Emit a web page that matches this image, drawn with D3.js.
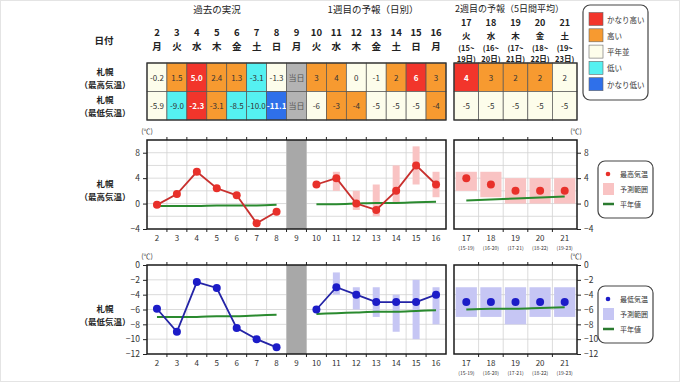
<!DOCTYPE html>
<html><head><meta charset="utf-8">
<script src="https://cdn.jsdelivr.net/npm/d3@7/dist/d3.min.js"></script>
<style>
body{margin:0;background:#fff}
svg{display:block}
text{font-family:"Noto Sans CJK JP","Noto Sans",sans-serif}
</style>
</head><body>
<svg id="c" width="680" height="382"></svg>
<script>
// ---------- data ----------
const days = [2,3,4,5,6,7,8,9,10,11,12,13,14,15,16];
const weekdays = ['月','火','水','木','金','土','日','月','火','水','木','金','土','日','月'];
const obsDays = [2,3,4,5,6,7,8];
const todayDay = 9;
const fcDays = [10,11,12,13,14,15,16];
const highObs = [-0.2,1.5,5.0,2.4,1.3,-3.1,-1.3];
const lowObs = [-5.9,-9.0,-2.3,-3.1,-8.5,-10.0,-11.1];
const highObsCls = ['n','h','vh','h','h','l','n'];
const lowObsCls = ['n','l','vh','h','l','l','vl'];
const highFc = [3,4,0,-1,2,6,3];
const lowFc = [-6,-3,-4,-5,-5,-5,-4];
const highFcCls = ['h','h','n','n','h','vh','h'];
const lowFcCls = ['n','h','h','n','n','n','h'];
const rangeDays = [11,12,13,14,15,16];
const highRange = [[2,5],[-1,2],[-2,3],[0,6],[3,9],[1,5]];
const lowRange = [[-4,-1],[-6,-3],[-7,-3],[-9,-4],[-10,-2],[-8,-3]];
const highNormObs = [-0.4,-0.4,-0.4,-0.3,-0.3,-0.3,-0.2];
const highNormFc = [-0.1,-0.1,0,0.1,0.1,0.2,0.3];
const lowNormObs = [-7.0,-7.0,-7.0,-6.9,-6.9,-6.8,-6.7];
const lowNormFc = [-6.6,-6.5,-6.4,-6.3,-6.3,-6.2,-6.1];

const w2Days = [17,18,19,20,21];
const w2Weekdays = ['火','水','木','金','土'];
const w2Period1 = ['(15~','(16~','(17~','(18~','(19~'];
const w2Period2 = ['19日)','20日)','21日)','22日)','23日)'];
const w2PeriodShort = ['(15-19)','(16-20)','(17-21)','(18-22)','(19-23)'];
const w2High = [4,3,2,2,2];
const w2Low = [-5,-5,-5,-5,-5];
const w2HighCls = ['vh','h','h','h','n'];
const w2LowCls = ['n','n','n','n','n'];
const w2HighRange = [[2,5],[1,5],[0,4],[0,4],[0,4]];
const w2LowRange = [[-7,-3],[-7,-3],[-8,-3],[-7,-3],[-7,-3]];
const w2HighNorm = [0.5,0.65,0.8,0.95,1.1];
const w2LowNorm = [-6.0,-5.9,-5.9,-5.8,-5.7];

const highTicks = [8,4,0,-4];
const lowTicks = [0,-2,-4,-6,-8,-10,-12];
const legendCls = ['vh','h','n','l','vl'];
const legendLabels = ['かなり高い','高い','平年並','低い','かなり低い'];

// ---------- styles ----------
const clsColor = {vh:'#f2352b', h:'#f79a30', n:'#fdfdeb', l:'#55f1f1', vl:'#2f70ea'};
const grayCell = '#b3b3b3';

const svg = d3.select('#c');
svg.append('rect').attr('x',0.5).attr('y',0.5).attr('width',679).attr('height',381)
  .attr('fill','#fff').attr('stroke','#e4e4e4');

const xMain = d3.scaleBand().domain(days).range([147,446]);
const x2 = d3.scaleBand().domain(w2Days).range([454,577]);

function txt(x,y,s,opt={}){
  return svg.append('text').attr('x',x).attr('y',y).text(s)
    .attr('font-size',opt.size||9).attr('fill',opt.fill||'#222')
    .attr('text-anchor',opt.anchor||'middle').attr('dominant-baseline','central')
    .attr('font-weight',opt.weight||'normal');
}
// ---------- titles ----------
txt(217,9,'過去の実況',{size:9.5});
txt(373,9,'1週目の予報（日別）',{size:9.5});
txt(455,8,'2週目の予報（5日間平均）',{size:9,anchor:'start'});

// header
txt(104,40,'日付',{size:9.5,weight:'bold'});
days.forEach((d,i)=>{
  const cx = xMain(d)+xMain.bandwidth()/2;
  txt(cx,32,d,{size:9.5,weight:'bold'});
  txt(cx,46,weekdays[i],{size:9.5,weight:'bold'});
});
w2Days.forEach((d,i)=>{
  const cx = x2(d)+x2.bandwidth()/2;
  txt(cx,22,d,{size:9,weight:'bold'});
  txt(cx,35,w2Weekdays[i],{size:8.5,weight:'bold'});
  txt(cx,47,w2Period1[i],{size:7.5,weight:'bold'});
  txt(cx,58,w2Period2[i],{size:7.5,weight:'bold'});
});

// row labels
txt(105,71,'札幌',{size:8.5,weight:'bold'});
txt(105,84,'（最高気温）',{size:8.5,weight:'bold'});
txt(105,99,'札幌',{size:8.5,weight:'bold'});
txt(105,112,'（最低気温）',{size:8.5,weight:'bold'});

// ---------- table ----------
const rowY = [63,91.5], rowH = 28.5;
function cell(x,w,y,cls,val,gray){
  const fill = gray ? grayCell : clsColor[cls];
  svg.append('rect').attr('x',x).attr('y',y).attr('width',w).attr('height',rowH)
    .attr('fill',fill).attr('stroke','#555').attr('stroke-width',0.7);
  const strong = cls==='vh'||cls==='vl';
  txt(x+w/2,y+rowH/2,val,{size:8,fill:strong?'#fff':(gray?'#555':'#333'),weight:strong?'bold':'normal'});
}
function fmt1(v){return v.toFixed(1);}
obsDays.forEach((d,i)=>{
  cell(xMain(d),xMain.bandwidth(),rowY[0],highObsCls[i],fmt1(highObs[i]));
  cell(xMain(d),xMain.bandwidth(),rowY[1],lowObsCls[i],fmt1(lowObs[i]));
});
cell(xMain(todayDay),xMain.bandwidth(),rowY[0],null,'当日',true);
cell(xMain(todayDay),xMain.bandwidth(),rowY[1],null,'当日',true);
fcDays.forEach((d,i)=>{
  cell(xMain(d),xMain.bandwidth(),rowY[0],highFcCls[i],highFc[i]);
  cell(xMain(d),xMain.bandwidth(),rowY[1],lowFcCls[i],lowFc[i]);
});
w2Days.forEach((d,i)=>{
  cell(x2(d),x2.bandwidth(),rowY[0],w2HighCls[i],w2High[i]);
  cell(x2(d),x2.bandwidth(),rowY[1],w2LowCls[i],w2Low[i]);
});
svg.append('rect').attr('x',147).attr('y',63).attr('width',299).attr('height',57)
  .attr('fill','none').attr('stroke','#333').attr('stroke-width',1.3);
svg.append('rect').attr('x',454).attr('y',63).attr('width',123).attr('height',57)
  .attr('fill','none').attr('stroke','#333').attr('stroke-width',1.3);

// top legend
svg.append('rect').attr('x',583).attr('y',5).attr('width',65).attr('height',95).attr('rx',7)
  .attr('fill','#fff').attr('stroke','#444').attr('stroke-width',1.2);
legendCls.forEach((c,i)=>{
  const cy = 19+i*16.3;
  svg.append('rect').attr('x',589).attr('y',cy-6.5).attr('width',14).attr('height',13)
    .attr('fill',clsColor[c]).attr('stroke','#666').attr('stroke-width',0.6);
  txt(607,cy,legendLabels[i],{size:7.5,anchor:'start',fill:'#333'});
});

// ---------- charts ----------
function chart(cfg){
  const {top,bottom,domain,ticks,gridStep,obs,fc,normObs,normFc,rngDays,rng,
         w2vals,w2rng,w2norm,lineColor,ptColor,rngColor,labels,legendLbl} = cfg;
  const y = d3.scaleLinear().domain(domain).range([bottom,top]);
  const gridVals = d3.range(domain[0]+gridStep, domain[1], gridStep);
  const panels = [{x:xMain,x0:147,x1:446,cats:days},{x:x2,x0:454,x1:577,cats:w2Days}];
  panels.forEach(p=>{
    const g = svg.append('g');
    g.append('rect').attr('x',p.x0).attr('y',top).attr('width',p.x1-p.x0).attr('height',bottom-top).attr('fill','#fff');
    g.selectAll('.hg').data(gridVals).enter().append('line')
      .attr('x1',p.x0).attr('x2',p.x1).attr('y1',d=>y(d)).attr('y2',d=>y(d))
      .attr('stroke','#d2d2d2').attr('stroke-width',0.8);
    const bounds = p.cats.slice(1).map(c=>p.x(c));
    g.selectAll('.vg').data(bounds).enter().append('line')
      .attr('x1',d=>d).attr('x2',d=>d).attr('y1',top).attr('y2',bottom)
      .attr('stroke','#d2d2d2').attr('stroke-width',0.8);
    g.selectAll('.xt').data(bounds).enter().append('line')
      .attr('x1',d=>d).attr('x2',d=>d).attr('y1',top-3).attr('y2',top)
      .attr('stroke','#222').attr('stroke-width',1);
    g.selectAll('.xb').data(bounds).enter().append('line')
      .attr('x1',d=>d).attr('x2',d=>d).attr('y1',bottom).attr('y2',bottom+3)
      .attr('stroke','#222').attr('stroke-width',1);
  });
  svg.append('rect').attr('x',xMain(todayDay)).attr('y',top).attr('width',xMain.bandwidth())
    .attr('height',bottom-top).attr('fill','#a8a8a8');

  const bw = 7;
  svg.selectAll(null).data(rngDays).enter().append('rect')
    .attr('x',d=>xMain(d)+xMain.bandwidth()/2-bw/2)
    .attr('y',(d,i)=>y(rng[i][1])).attr('width',bw)
    .attr('height',(d,i)=>y(rng[i][0])-y(rng[i][1])).attr('fill',rngColor);
  const pad = 1.7;
  svg.selectAll(null).data(w2Days).enter().append('rect')
    .attr('x',d=>x2(d)+pad).attr('width',x2.bandwidth()-2*pad)
    .attr('y',(d,i)=>y(w2rng[i][1])).attr('height',(d,i)=>y(w2rng[i][0])-y(w2rng[i][1]))
    .attr('fill',rngColor);

  const cxM = d=>xMain(d)+xMain.bandwidth()/2;
  const cx2 = d=>x2(d)+x2.bandwidth()/2;
  const ln = d3.line().x(d=>d[0]).y(d=>y(d[1])).curve(d3.curveMonotoneX);
  [obsDays.map((d,i)=>[cxM(d),normObs[i]]), fcDays.map((d,i)=>[cxM(d),normFc[i]]),
   w2Days.map((d,i)=>[cx2(d),w2norm[i]])].forEach(a=>{
    svg.append('path').attr('d',ln(a)).attr('fill','none').attr('stroke','#2a8a2f').attr('stroke-width',2);
  });
  const lin = d3.line().x(d=>d[0]).y(d=>y(d[1]));
  [obsDays.map((d,i)=>[cxM(d),obs[i]]), fcDays.map((d,i)=>[cxM(d),fc[i]])].forEach(pts=>{
    svg.append('path').attr('d',lin(pts)).attr('fill','none').attr('stroke',lineColor).attr('stroke-width',1.8);
    svg.selectAll(null).data(pts).enter().append('circle')
      .attr('cx',d=>d[0]).attr('cy',d=>y(d[1])).attr('r',4).attr('fill',ptColor);
  });
  svg.selectAll(null).data(w2Days).enter().append('circle')
    .attr('cx',d=>cx2(d)).attr('cy',(d,i)=>y(w2vals[i])).attr('r',4).attr('fill',ptColor);

  [[147,446],[454,577]].forEach(([a,b])=>{
    svg.append('rect').attr('x',a).attr('y',top).attr('width',b-a).attr('height',bottom-top)
      .attr('fill','none').attr('stroke','#1a1a1a').attr('stroke-width',1.5);
  });
  const yl = d3.axisLeft(y).tickValues(ticks).tickSize(4).tickFormat(d3.format('d'));
  const ga = svg.append('g').attr('transform','translate(147,0)').call(yl);
  const yr = d3.axisRight(y).tickValues(ticks).tickSize(4).tickFormat(d3.format('d'));
  const gb = svg.append('g').attr('transform','translate(577,0)').call(yr);
  [ga,gb].forEach(g=>{
    g.select('.domain').remove();
    g.selectAll('line').attr('stroke','#222');
    g.selectAll('text').attr('font-size',8.5).attr('fill','#333')
      .attr('font-family','"Noto Sans CJK JP","Noto Sans",sans-serif')
      .text(d=>d<0?'−'+Math.abs(d):d);
  });
  gb.selectAll('text').attr('x',7);
  txt(147,top-9,'(℃)',{size:7,fill:'#333'});
  txt(576,top-9,'(℃)',{size:7,fill:'#333'});

  days.forEach(d=>txt(cxM(d),bottom+8.5,d,{size:8,fill:'#333'}));
  w2Days.forEach((d,i)=>{
    txt(cx2(d),bottom+8.5,d,{size:8,fill:'#333'});
    txt(cx2(d),bottom+18,w2PeriodShort[i],{size:5,fill:'#333'});
  });

  txt(105,top+43,labels[0],{size:8.5,weight:'bold'});
  txt(105,top+56,labels[1],{size:8.5,weight:'bold'});

  const ly = top+21;
  svg.append('rect').attr('x',598).attr('y',ly).attr('width',55).attr('height',57).attr('rx',7)
    .attr('fill','#fff').attr('stroke','#444').attr('stroke-width',1.2);
  svg.append('circle').attr('cx',608).attr('cy',ly+13).attr('r',2.3).attr('fill',ptColor);
  svg.append('rect').attr('x',603).attr('y',ly+22).attr('width',11).attr('height',12).attr('fill',rngColor);
  svg.append('line').attr('x1',603).attr('x2',614).attr('y1',ly+43).attr('y2',ly+43)
    .attr('stroke','#2a7a2f').attr('stroke-width',2.5);
  txt(620,ly+13,legendLbl,{size:7,anchor:'start',fill:'#333'});
  txt(620,ly+28,'予測範囲',{size:7,anchor:'start',fill:'#333'});
  txt(620,ly+43,'平年値',{size:7,anchor:'start',fill:'#333'});
}

chart({top:140,bottom:229,domain:[-4,10],ticks:highTicks,gridStep:2,
  obs:highObs,fc:highFc,normObs:highNormObs,normFc:highNormFc,rngDays:rangeDays,rng:highRange,
  w2vals:w2High,w2rng:w2HighRange,w2norm:w2HighNorm,
  lineColor:'#c8302e',ptColor:'#e8302a',rngColor:'#f9c3c3',
  labels:['札幌','（最高気温）'],legendLbl:'最高気温'});
chart({top:265,bottom:354,domain:[-12,0],ticks:lowTicks,gridStep:2,
  obs:lowObs,fc:lowFc,normObs:lowNormObs,normFc:lowNormFc,rngDays:rangeDays,rng:lowRange,
  w2vals:w2Low,w2rng:w2LowRange,w2norm:w2LowNorm,
  lineColor:'#2424a6',ptColor:'#1c1cc8',rngColor:'#c6c6f4',
  labels:['札幌','（最低気温）'],legendLbl:'最低気温'});
</script>
</body></html>
